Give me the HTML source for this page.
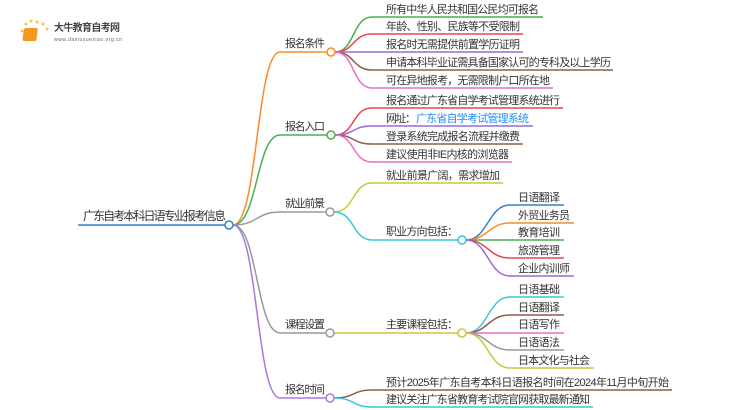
<!DOCTYPE html>
<html><head><meta charset="utf-8"><style>
html,body{margin:0;padding:0;background:#fff;width:750px;height:410px;overflow:hidden}
svg text{font-family:"Liberation Sans","Noto Sans CJK SC",sans-serif;font-size:11px;fill:#333}
</style></head><body>
<svg width="750" height="410" viewBox="0 0 750 410" xmlns="http://www.w3.org/2000/svg" fill="none" stroke-width="1.5">
<!-- logo -->
<g>
<circle cx="26" cy="24" r="1.5" fill="#f7c35a" stroke="none"/>
<circle cx="31" cy="21" r="1.5" fill="#f7c35a" stroke="none"/>
<circle cx="37" cy="22" r="1.5" fill="#f7c35a" stroke="none"/>
<circle cx="43" cy="24" r="1.5" fill="#f7c35a" stroke="none"/>
<circle cx="47" cy="29" r="1.5" fill="#f7c35a" stroke="none"/>
<circle cx="22" cy="31" r="1.5" fill="#f7c35a" stroke="none"/>
<rect x="28" y="28" width="14" height="13" rx="2" fill="#f29a1e" stroke="none" transform="skewX(-8)"/>
<text x="54" y="31" style="font-size:10px;fill:#444;font-weight:bold" textLength="66">大牛教育自考网</text>
<text x="54" y="41" style="font-size:5px;fill:#666" textLength="68">www.daniuxuexiao.org.cn</text>
</g>
<!-- root -->
<path d="M78 225 H226" stroke="#3a7fc8"/>
<text x="83" y="220" style="font-size:12px" textLength="143">广东自考本科日语专业报考信息</text>
<!-- level1 connections -->
<path d="M233 225 C258 225 256 52 280 52 H327" stroke="#f98b2b"/>
<path d="M233 225 C258 225 256 135 280 135 H327" stroke="#4caf50"/>
<path d="M233 225 C258 225 256 212 280 212 H326" stroke="#999"/>
<path d="M233 225 C258 225 256 333 280 333 H326" stroke="#999"/>
<path d="M233 225 C258 225 256 398 280 398 H326" stroke="#a67bd8"/>
<circle cx="229" cy="225" r="4" fill="#fff" stroke="#3a7fc8"/>
<text x="285" y="47" textLength="40">报名条件</text>
<text x="285" y="130" textLength="40">报名入口</text>
<text x="285" y="207" textLength="40">就业前景</text>
<text x="285" y="328" textLength="40">课程设置</text>
<text x="285" y="393" textLength="40">报名时间</text>
<!-- 报名条件 children -->
<path d="M335 52 C355 52 352 17 372 17 H543" stroke="#4caf50"/>
<path d="M335 52 C355 52 352 34 372 34 H523" stroke="#e8474a"/>
<path d="M335 52 H523" stroke="#9c6ad4"/>
<path d="M335 52 C355 52 352 70 372 70 H613" stroke="#8d5f4f"/>
<path d="M335 52 C355 52 352 88 372 88 H553" stroke="#e86ec8"/>
<circle cx="331" cy="52" r="4" fill="#fff" stroke="#f98b2b"/>
<text x="386" y="13" textLength="153">所有中华人民共和国公民均可报名</text>
<text x="386" y="30" textLength="134">年龄、性别、民族等不受限制</text>
<text x="386" y="48" textLength="134">报名时无需提供前置学历证明</text>
<text x="386" y="66" textLength="225">申请本科毕业证需具备国家认可的专科及以上学历</text>
<text x="386" y="84" textLength="164">可在异地报考，无需限制户口所在地</text>
<!-- 报名入口 children -->
<path d="M335 135 C355 135 352 108 372 108 H563" stroke="#e8474a"/>
<path d="M335 135 C355 135 352 126 372 126 H533" stroke="#9c6ad4"/>
<path d="M335 135 C355 135 352 144 372 144 H523" stroke="#8d5f4f"/>
<path d="M335 135 C355 135 352 162 372 162 H512" stroke="#e86ec8"/>
<circle cx="331" cy="135" r="4" fill="#fff" stroke="#4caf50"/>
<text x="386" y="104" textLength="174">报名通过广东省自学考试管理系统进行</text>
<text x="386" y="122" textLength="30">网址：</text>
<text x="416" y="122" textLength="113" style="fill:#1e90ff">广东省自学考试管理系统</text>
<text x="386" y="140" textLength="134">登录系统完成报名流程并缴费</text>
<text x="386" y="158" textLength="123">建议使用非IE内核的浏览器</text>
<!-- 就业前景 -->
<path d="M334 212 C355 212 352 183 372 183 H503" stroke="#c9c83a"/>
<path d="M334 212 C355 212 352 240 372 240 H458" stroke="#3bc6d8"/>
<circle cx="330" cy="212" r="4" fill="#fff" stroke="#999"/>
<text x="386" y="179" textLength="114">就业前景广阔，需求增加</text>
<text x="386" y="235" textLength="72">职业方向包括：</text>
<path d="M466 240 C488 240 488 205 510 205 H564" stroke="#3a7fc8"/>
<path d="M466 240 C488 240 488 223 510 223 H574" stroke="#f98b2b"/>
<path d="M466 240 H564" stroke="#4caf50"/>
<path d="M466 240 C488 240 488 258 510 258 H564" stroke="#e8474a"/>
<path d="M466 240 C488 240 488 276 510 276 H574" stroke="#9c6ad4"/>
<circle cx="462" cy="240" r="4" fill="#fff" stroke="#3bc6d8"/>
<text x="518" y="201" textLength="42">日语翻译</text>
<text x="518" y="219" textLength="52">外贸业务员</text>
<text x="518" y="236" textLength="42">教育培训</text>
<text x="518" y="254" textLength="42">旅游管理</text>
<text x="518" y="272" textLength="52">企业内训师</text>
<!-- 课程设置 -->
<path d="M334 333 H458" stroke="#c9c83a"/>
<circle cx="330" cy="333" r="4" fill="#fff" stroke="#999"/>
<text x="386" y="328" textLength="72">主要课程包括：</text>
<path d="M466 333 C488 333 488 297 510 297 H564" stroke="#3bc6d8"/>
<path d="M466 333 C488 333 488 315 510 315 H564" stroke="#8d5f4f"/>
<path d="M466 333 H564" stroke="#e86ec8"/>
<path d="M466 333 C488 333 488 350 510 350 H564" stroke="#999"/>
<path d="M466 333 C488 333 488 368 510 368 H594" stroke="#c9c83a"/>
<circle cx="462" cy="333" r="4" fill="#fff" stroke="#c9c83a"/>
<text x="518" y="293" textLength="42">日语基础</text>
<text x="518" y="311" textLength="42">日语翻译</text>
<text x="518" y="328" textLength="42">日语写作</text>
<text x="518" y="346" textLength="42">日语语法</text>
<text x="518" y="364" textLength="72">日本文化与社会</text>
<!-- 报名时间 -->
<path d="M334 398 C355 398 352 390 372 390 H672" stroke="#8d5f4f"/>
<path d="M334 398 C355 398 352 407 372 407 H593" stroke="#3bc6d8"/>
<circle cx="330" cy="398" r="4" fill="#fff" stroke="#a67bd8"/>
<text x="386" y="386" textLength="283">预计2025年广东自考本科日语报名时间在2024年11月中旬开始</text>
<text x="386" y="403" textLength="204">建议关注广东省教育考试院官网获取最新通知</text>
</svg>
</body></html>
